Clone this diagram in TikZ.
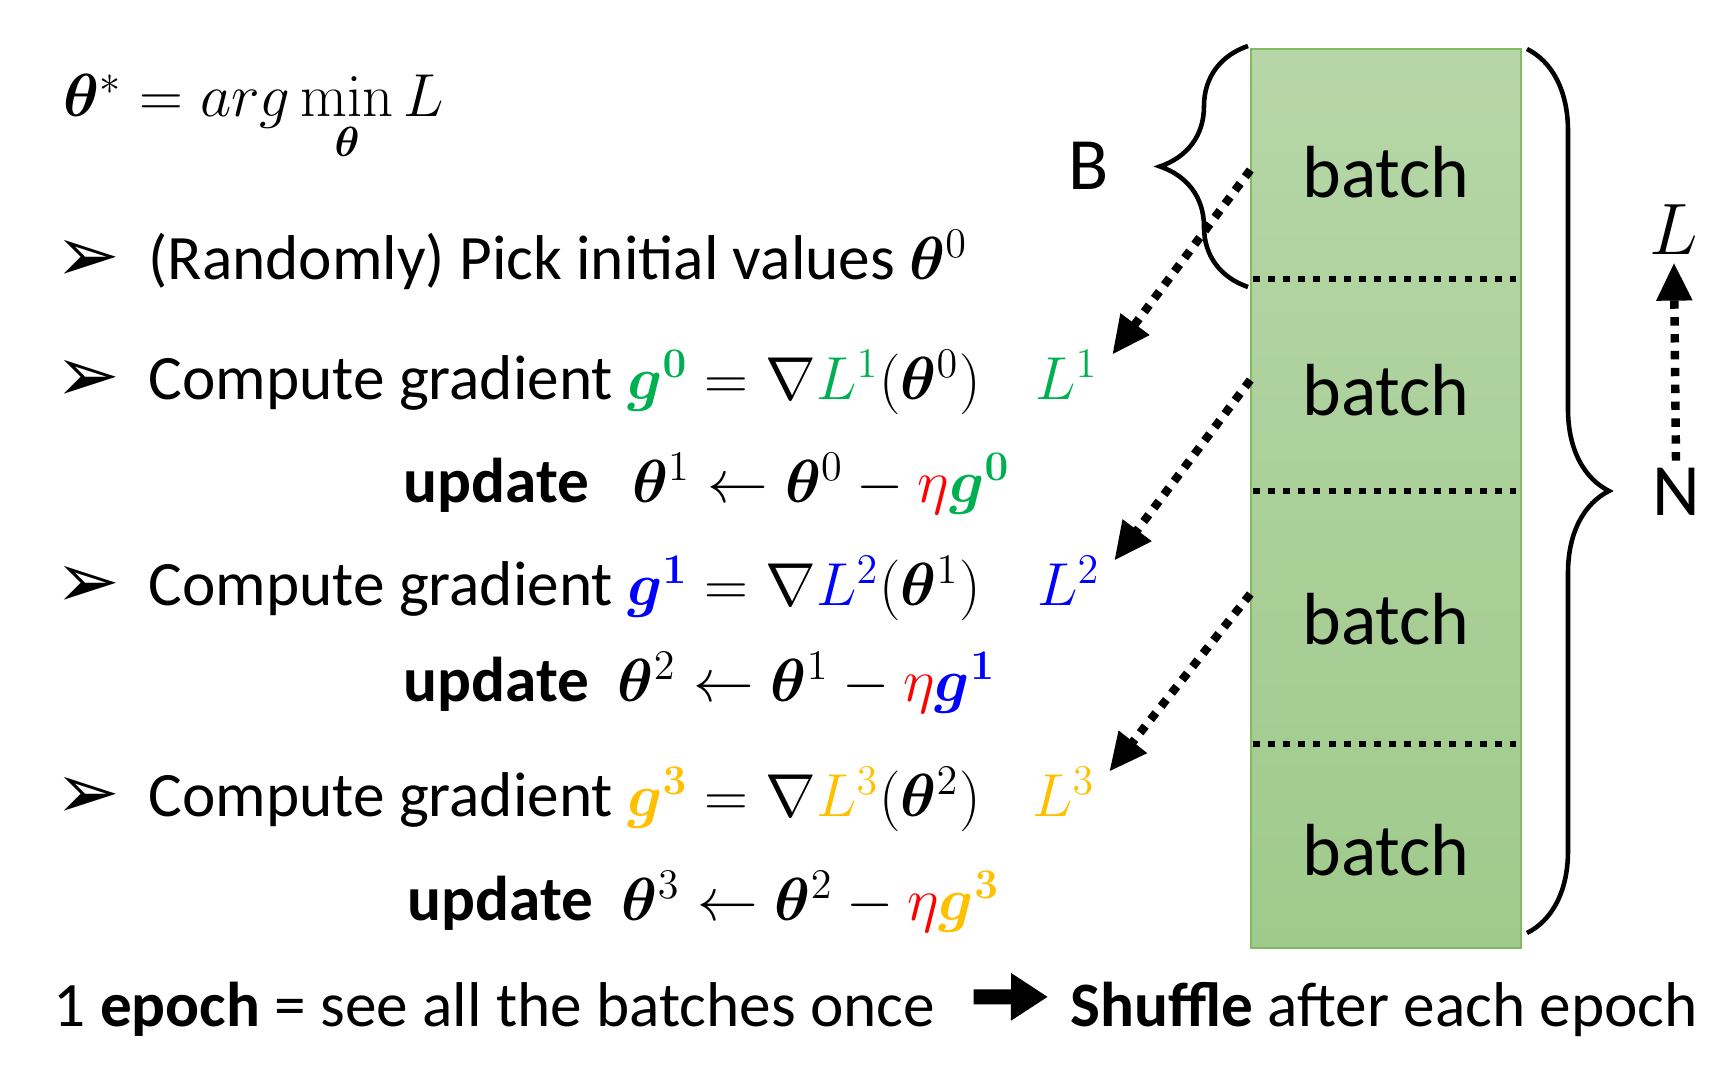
\documentclass[tikz,border=0pt]{standalone}
\usepackage{amsmath,amssymb}
\usepackage{bm}
\usepackage[no-math]{fontspec}
\setmainfont{Carlito}
\newfontfamily\dingfont{DejaVu Sans}
\usetikzlibrary{arrows.meta,decorations.pathreplacing}
\usepackage{xcolor}
\definecolor{stepgreen}{RGB}{0,176,80}
\definecolor{stepblue}{RGB}{0,0,255}
\definecolor{stepgold}{RGB}{255,192,0}
\definecolor{boxtop}{RGB}{182,214,167}
\definecolor{boxbot}{RGB}{160,202,140}
\definecolor{boxline}{RGB}{130,186,100}

\begin{document}
\begin{tikzpicture}[
    txt/.style={anchor=base west, inner sep=0pt, font=\fontsize{18}{22}\selectfont},
    bullet/.style={anchor=base west, inner sep=0pt, font=\dingfont\fontsize{22}{24}\selectfont},
    lossname/.style={anchor=base west, inner sep=1pt, font=\fontsize{18}{22}\selectfont},
    batchname/.style={minimum width=2.7cm, inner sep=0pt, font=\fontsize{21}{25}\selectfont},
    sidename/.style={inner sep=2pt, font=\fontsize{21}{25}\selectfont},
    sep/.style={line width=1.8pt, dash pattern=on 2pt off 2.3pt},
    dotarr/.style={line width=2.4pt, dash pattern=on 2.4pt off 2.4pt,
        -{Triangle[length=0.38cm, width=0.34cm]}},
    brc/.style={decorate, decoration={brace, amplitude=#1}, line width=1.3pt}
]
    \useasboundingbox (0,0) rectangle (17.16,10.68);

    % objective
    \node[txt] (goal) at (0.63,9.51)
        {$\bm{\theta}^{*} = arg\min\limits_{\bm{\theta}} L$};

    % steps
    \node[bullet] (bul0) at (0.55,7.86) {➢};
    \node[txt] (init) at (1.48,7.88) {(Randomly) Pick initial values $\bm{\theta}^0$};

    \node[bullet] (bul1) at (0.55,6.66) {➢};
    \node[txt] (grad1) at (1.48,6.68) {Compute gradient
        $\color{stepgreen}\bm{g}^{\bm{0}}\color{black} = \nabla {\color{stepgreen}L^1}(\bm{\theta}^0)$};
    \node[txt] (upd1) at (4.03,5.65) {\textbf{update}\ \ \
        $\bm{\theta}^1 \leftarrow \bm{\theta}^0 - {\color{red}\eta}{\color{stepgreen}\bm{g}^{\bm{0}}}$};

    \node[bullet] (bul2) at (0.55,4.60) {➢};
    \node[txt] (grad2) at (1.48,4.62) {Compute gradient
        $\color{stepblue}\bm{g}^{\bm{1}}\color{black} = \nabla {\color{stepblue}L^2}(\bm{\theta}^1)$};
    \node[txt] (upd2) at (4.03,3.66) {\textbf{update}\ \
        $\bm{\theta}^2 \leftarrow \bm{\theta}^1 - {\color{red}\eta}{\color{stepblue}\bm{g}^{\bm{1}}}$};

    \node[bullet] (bul3) at (0.55,2.49) {➢};
    \node[txt] (grad3) at (1.48,2.51) {Compute gradient
        $\color{stepgold}\bm{g}^{\bm{3}}\color{black} = \nabla {\color{stepgold}L^3}(\bm{\theta}^2)$};
    \node[txt] (upd3) at (4.07,1.47) {\textbf{update}\ \
        $\bm{\theta}^3 \leftarrow \bm{\theta}^2 - {\color{red}\eta}{\color{stepgold}\bm{g}^{\bm{3}}}$};

    \node[lossname, text=stepgreen] (l1) at (10.31,6.68) {$L^1$};
    \node[lossname, text=stepblue] (l2) at (10.33,4.62) {$L^2$};
    \node[lossname, text=stepgold] (l3) at (10.28,2.51) {$L^3$};

    % data split into batches
    \fill[top color=boxtop, bottom color=boxbot] (12.51,1.20) rectangle (15.21,10.19);
    \draw[boxline, thin] (12.51,1.20) rectangle (15.21,10.19);
    \draw[sep] (12.53,7.89) -- (15.16,7.89);
    \draw[sep] (12.53,5.77) -- (15.16,5.77);
    \draw[sep] (12.53,3.24) -- (15.16,3.24);

    \node[batchname] (b1) at (13.86,8.96) {batch};
    \node[batchname] (b2) at (13.86,6.78) {batch};
    \node[batchname] (b3) at (13.86,4.49) {batch};
    \node[batchname] (b4) at (13.86,2.18) {batch};

    \draw[brc=0.88cm] (12.48,7.81) -- (12.48,10.22);
    \node[sidename] (bsize) at (10.89,9.02) {B};
    \draw[brc=0.82cm] (15.27,10.19) -- (15.27,1.35);
    \node[sidename, font=\fontsize{22}{26}\selectfont] (lsize) at (16.74,8.38) {$L$};
    \node[sidename] (nsize) at (16.76,5.76) {N};
    \draw[dotarr] (nsize.north) -- (lsize.south);

    \draw[dotarr] ([yshift=0.02cm]b1.west) -- ([xshift=0.1cm,yshift=-0.08cm]l1.north east);
    \draw[dotarr] ([yshift=0.1cm]b2.west) -- ([xshift=0.1cm,yshift=-0.08cm]l2.north east);
    \draw[dotarr] ([yshift=0.25cm]b3.west) -- ([xshift=0.1cm,yshift=-0.08cm]l3.north east);

    % epoch
    \node[txt] (epoch) at (0.53,0.41) {1 \textbf{epoch} = see all the batches once};
    \node[txt] (shuffle) at (10.70,0.41) {\textbf{Shuffle} after each epoch};
    \draw[line width=0.15cm, -{Triangle[length=0.37cm, width=0.45cm]}, shorten <=0.38cm, shorten >=0.22cm]
        ([yshift=0.13cm]epoch.east) -- ([yshift=0.13cm]shuffle.west);
\end{tikzpicture}
\end{document}
